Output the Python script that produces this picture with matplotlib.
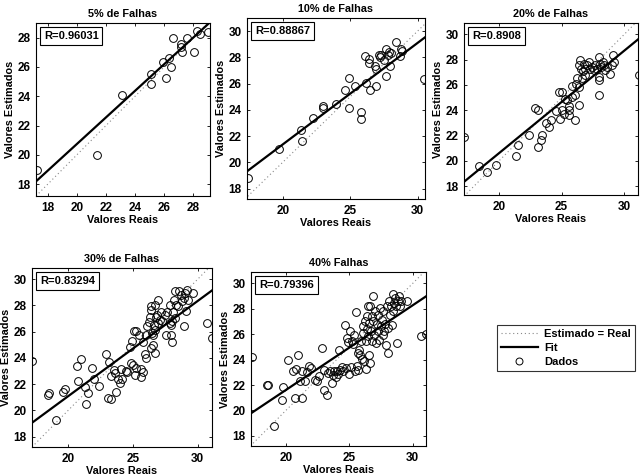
import matplotlib
matplotlib.use("Agg")
import matplotlib.pyplot as plt
from matplotlib.lines import Line2D
from matplotlib import font_manager
import numpy as np

family = 'Liberation Sans'
for cand in ['Liberation Sans Narrow', 'Arial Narrow']:
    try:
        font_manager.findfont(font_manager.FontProperties(family=cand), fallback_to_default=False)
        family = cand
        break
    except Exception:
        pass
narrow = family != 'Liberation Sans'
plt.rcParams['font.family'] = [family, 'Liberation Sans', 'DejaVu Sans']
plt.rcParams['font.weight'] = 'bold'

titles = ["5% de Falhas", "10% de Falhas", "20% de Falhas", "30% de Falhas", "40% Falhas"]
r_labels = ["R=0.96031", "R=0.88867", "R=0.8908", "R=0.83294", "R=0.79396"]
fit_slope = [0.908, 0.774, 0.810, 0.726, 0.667]
fit_intercept = [2.58, 5.88, 4.41, 6.56, 8.27]

x5 = [17.25, 21.36, 23.08, 25.09, 25.09, 26.10, 25.94, 26.33, 26.44, 26.58, 27.13, 27.15,
      27.20, 27.54, 28.05, 28.23, 28.46, 29.03]
y5 = [18.95, 19.98, 24.07, 25.50, 24.82, 25.27, 26.32, 26.64, 26.00, 28.00, 27.59, 27.36,
      27.02, 27.98, 27.02, 28.45, 28.27, 28.39]

x10 = [17.42, 19.75, 21.33, 21.40, 22.26, 22.95, 23.00, 23.98, 24.59, 24.91, 24.91, 25.33,
       25.82, 25.82, 26.07, 26.19, 26.39, 26.39, 26.49, 26.81, 26.88, 26.93, 27.17, 27.22,
       27.30, 27.54, 27.67, 27.67, 27.79, 27.91, 27.96, 28.03, 28.40, 28.70, 28.77, 28.85, 30.50]
y10 = [18.77, 20.99, 22.47, 21.63, 23.36, 24.31, 24.13, 24.43, 25.48, 26.43, 24.13, 25.84,
       23.87, 23.29, 28.09, 26.04, 27.88, 27.57, 25.53, 27.37, 27.12, 25.84, 28.21, 28.03,
       28.21, 27.83, 28.67, 26.55, 28.21, 28.39, 27.32, 28.34, 29.16, 28.09, 28.60, 28.47, 26.37]

x20 = [17.23, 18.40, 19.01, 19.73, 21.33, 21.49, 22.40, 22.88, 23.09, 23.09, 23.36, 23.47,
       23.73, 24.00, 24.13, 24.53, 24.80, 24.83, 25.01, 25.01, 25.15, 25.23, 25.41, 25.55,
       25.60, 25.60, 25.81, 25.81, 26.03, 26.08, 26.13, 26.21, 26.35, 26.40, 26.40, 26.48,
       26.56, 26.61, 26.67, 26.75, 26.83, 26.88, 27.01, 27.15, 27.28, 27.41, 27.55, 27.68,
       27.81, 27.95, 27.95, 28.00, 28.00, 28.08, 28.16, 28.27, 28.35, 28.48, 28.61, 28.88,
       29.01, 29.09, 29.20, 31.15]
y20 = [21.89, 19.60, 19.10, 19.66, 20.37, 21.29, 22.08, 24.21, 24.00, 21.11, 21.68, 22.05,
       23.00, 22.68, 23.21, 23.95, 25.45, 23.34, 25.45, 24.00, 23.74, 24.92, 24.79, 24.00,
       23.61, 24.32, 25.89, 25.05, 23.21, 25.18, 26.10, 26.58, 27.55, 24.39, 25.84, 27.95,
       27.29, 26.58, 27.11, 27.68, 26.76, 27.29, 27.55, 27.82, 27.29, 27.42, 27.16, 27.55,
       27.29, 28.21, 26.63, 26.37, 25.18, 27.68, 27.42, 27.82, 27.55, 27.16, 27.42, 26.84,
       27.55, 28.34, 27.82, 26.76]

x30 = [17.23, 18.46, 18.54, 19.03, 19.62, 19.74, 20.69, 20.77, 20.95, 21.28, 21.36, 21.54,
       21.87, 22.00, 22.36, 22.90, 23.08, 23.13, 23.28, 23.33, 23.51, 23.59, 23.72, 23.85,
       24.03, 24.10, 24.15, 24.44, 24.54, 24.74, 24.82, 24.92, 25.00, 25.08, 25.21, 25.13,
       25.26, 25.46, 25.64, 25.64, 25.77, 25.77, 25.90, 26.03, 26.03, 26.10, 26.21, 26.33,
       26.36, 26.41, 26.41, 26.49, 26.54, 26.54, 26.59, 26.67, 26.67, 26.72, 26.79, 26.85,
       26.92, 26.92, 27.05, 27.13, 27.26, 27.44, 27.56, 27.64, 27.82, 27.87, 27.95, 27.95,
       28.00, 28.03, 28.08, 28.13, 28.21, 28.26, 28.33, 28.46, 28.59, 28.72, 28.79, 28.90,
       28.97, 29.05, 29.10, 29.15, 29.23, 29.62, 30.69, 31.08]
y30 = [23.72, 21.18, 21.30, 19.27, 21.43, 21.61, 23.41, 22.27, 23.90, 21.81, 20.47, 21.30,
       23.26, 22.37, 21.86, 24.30, 20.97, 23.67, 20.87, 22.65, 23.08, 22.83, 21.43, 22.40,
       22.07, 23.16, 22.40, 23.01, 22.91, 24.86, 23.59, 25.25, 23.47, 26.01, 26.01, 22.70,
       23.26, 25.75, 23.16, 22.50, 22.91, 25.19, 24.28, 23.97, 25.75, 26.39, 26.72, 27.08,
       27.66, 27.92, 24.74, 25.88, 25.75, 24.99, 26.52, 28.04, 26.14, 24.36, 27.08, 27.28,
       28.42, 26.64, 26.90, 27.48, 26.82, 27.28, 25.75, 27.48, 26.64, 28.04, 25.75, 26.52,
       25.19, 26.82, 27.53, 28.42, 29.11, 27.03, 28.04, 27.92, 29.06, 28.80, 28.30, 28.55,
       26.39, 28.93, 27.58, 29.19, 28.42, 28.98, 26.64, 25.55]

x40 = [17.32, 18.50, 18.58, 19.03, 19.69, 19.76, 20.16, 20.60, 20.73, 20.79, 20.94, 21.13,
       21.26, 21.31, 21.47, 21.65, 21.84, 22.00, 22.31, 22.44, 22.62, 22.83, 22.97, 23.04,
       23.23, 23.31, 23.49, 23.62, 23.75, 23.83, 23.94, 24.02, 24.10, 24.20, 24.28, 24.41,
       24.54, 24.67, 24.72, 24.80, 24.88, 24.99, 25.07, 25.14, 25.20, 25.33, 25.41, 25.46,
       25.51, 25.59, 25.67, 25.72, 25.77, 25.85, 25.93, 25.98, 26.06, 26.12, 26.19, 26.25,
       26.30, 26.33, 26.38, 26.43, 26.46, 26.51, 26.56, 26.59, 26.64, 26.67, 26.72, 26.77,
       26.82, 26.88, 26.90, 26.98, 27.03, 27.09, 27.17, 27.24, 27.30, 27.35, 27.43, 27.51,
       27.56, 27.64, 27.69, 27.77, 27.82, 27.90, 27.95, 28.03, 28.08, 28.14, 28.22, 28.29,
       28.35, 28.43, 28.48, 28.56, 28.61, 28.69, 28.74, 28.82, 28.92, 29.00, 29.08, 29.53,
       30.66, 31.02]
y40 = [24.21, 22.03, 21.97, 18.74, 20.84, 21.82, 24.00, 23.13, 20.97, 23.29, 24.34, 22.29,
       23.08, 20.97, 22.34, 23.03, 23.47, 23.34, 22.42, 22.29, 22.68, 24.92, 23.21, 21.63,
       21.24, 22.95, 23.08, 22.16, 22.82, 23.08, 22.61, 23.08, 22.87, 24.79, 23.21, 23.39,
       23.13, 26.76, 23.34, 25.71, 25.39, 22.87, 26.24, 23.39, 25.45, 25.24, 25.97, 23.13,
       27.76, 23.47, 24.53, 23.21, 24.79, 24.39, 25.50, 24.08, 26.63, 26.11, 23.92, 27.08,
       23.29, 25.50, 27.42, 26.42, 28.21, 25.84, 24.39, 26.89, 28.21, 23.74, 26.24, 27.42,
       25.45, 29.00, 27.08, 25.97, 27.82, 25.32, 26.82, 26.24, 27.55, 25.58, 28.03, 26.63,
       27.16, 25.97, 27.82, 26.24, 26.82, 25.18, 28.21, 26.50, 24.53, 28.61, 27.55, 28.21,
       26.76, 27.82, 29.13, 28.47, 28.82, 28.21, 25.32, 28.61, 29.00, 28.21, 28.61, 28.61,
       25.84, 26.03]

xs = [x5, x10, x20, x30, x40]
ys = [y5, y10, y20, y30, y40]
xlims = [(17.2, 29.15), (17.35, 30.55), (17.2, 31.1), (17.2, 31.1), (17.25, 31.05)]
ylims = [(17.2, 29.0), (17.2, 31.0), (17.3, 30.9), (17.2, 30.85), (17.2, 30.9)]
xticks = [[18, 20, 22, 24, 26, 28], [20, 25, 30], [20, 25, 30], [20, 25, 30], [20, 25, 30]]
yticks = [[18, 20, 22, 24, 26, 28], [18, 20, 22, 24, 26, 28, 30], [18, 20, 22, 24, 26, 28, 30],
          [18, 20, 22, 24, 26, 28, 30], [18, 20, 22, 24, 26, 28, 30]]

W, H = 642, 475
boxes_px = [(36, 23, 210, 196), (247, 18, 425, 199), (464, 23, 638, 195),
            (32, 268, 212, 447), (251, 272, 426, 446)]

fs_tick = 9.5 if narrow else 8.5
fs_lab = 9.5 if narrow else 7.8
fs_title = 9 if narrow else 7.8
fs_r = 9 if narrow else 8

fig = plt.figure(figsize=(W / 100, H / 100), dpi=100)
fig.patch.set_facecolor('white')

for i in range(5):
    l, t, r, b = boxes_px[i]
    ax = fig.add_axes([l / W, 1 - b / H, (r - l) / W, (b - t) / H])
    x0, x1 = xlims[i]
    diag = np.array([min(x0, ylims[i][0]), max(x1, ylims[i][1])])
    ax.plot(diag, diag, linestyle=(0, (1, 2.5)), color='#888888', lw=0.8)
    fx = np.array(xlims[i])
    ax.plot(fx, fit_slope[i] * fx + fit_intercept[i], color='black', lw=1.6)
    ax.plot(xs[i], ys[i], linestyle='none', marker='o', ms=5.6, mfc='none',
            mec='black', mew=0.7)
    ax.set_xlim(xlims[i])
    ax.set_ylim(ylims[i])
    ax.set_xticks(xticks[i])
    ax.set_yticks(yticks[i])
    ax.tick_params(direction='in', length=2.5, width=0.6, top=True, right=True,
                   labelsize=fs_tick, pad=4)
    for lab in ax.get_xticklabels() + ax.get_yticklabels():
        lab.set_fontweight('bold')
    for sp in ax.spines.values():
        sp.set_linewidth(0.8)
    ax.set_xlabel("Valores Reais", fontsize=fs_lab, fontweight='bold', labelpad=1)
    ax.set_ylabel("Valores Estimados", fontsize=fs_lab, fontweight='bold', labelpad=2)
    ax.set_title(titles[i], fontsize=fs_title, fontweight='bold', pad=4)
    ax.text(0.045, 0.955, r_labels[i], transform=ax.transAxes, ha='left', va='top',
            fontsize=fs_r, fontweight='bold',
            bbox=dict(boxstyle='square,pad=0.35', fc='white', ec='black', lw=0.8))

handles = [Line2D([], [], linestyle=(0, (1, 2.5)), color='#888888', lw=0.8),
           Line2D([], [], color='black', lw=1.6),
           Line2D([], [], linestyle='none', marker='o', ms=5, mfc='none', mec='black', mew=0.7)]
leg = fig.legend(handles, ["Estimado = Real", "Fit", "Dados"],
                 loc='upper left', bbox_to_anchor=(497 / W, 1 - 325 / H),
                 fontsize=8, frameon=True, fancybox=False, edgecolor='black',
                 borderpad=0.35, labelspacing=0.35, handlelength=3.3, handletextpad=0.6,
                 borderaxespad=0)
leg.get_frame().set_linewidth(0.8)
for t in leg.get_texts():
    t.set_fontweight('bold')

fig.savefig("out.png", dpi=100, facecolor='white')
